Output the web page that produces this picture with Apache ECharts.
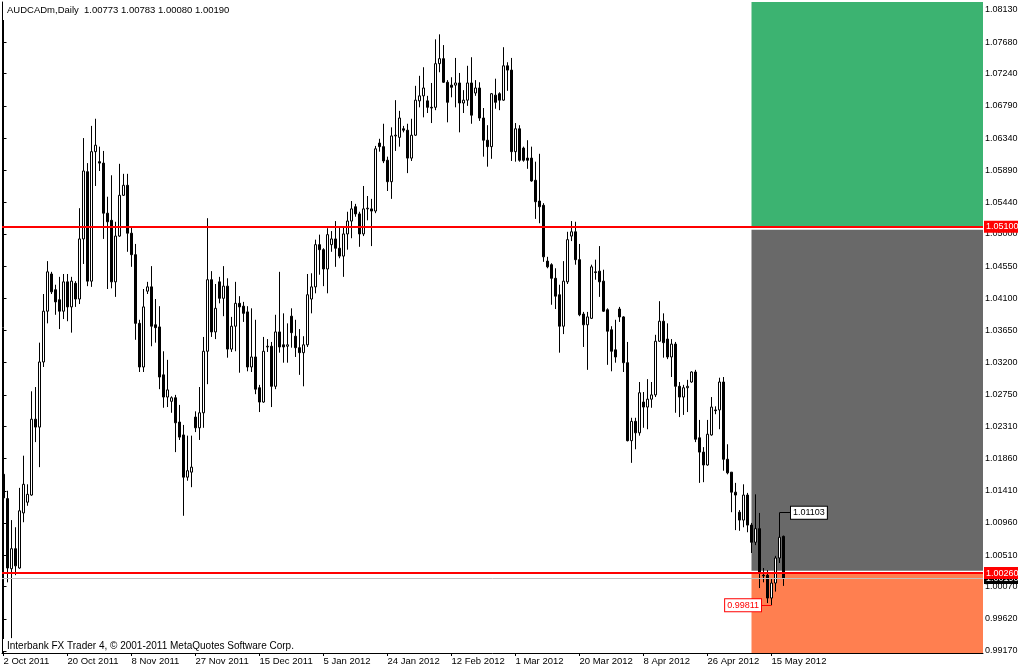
<!DOCTYPE html>
<html><head><meta charset="utf-8">
<script src="https://cdn.jsdelivr.net/npm/echarts@6/dist/echarts.min.js"></script>
<style>html,body{margin:0;padding:0;background:#fff}#c{width:1018px;height:670px}</style>
</head><body><div id="c"></div><script>
// ---- data ----
const opens = [1.0164,1.0130,1.0032,1.0060,1.0033,1.0110,1.0125,1.0135,1.0241,1.0230,1.0321,1.0392,1.0444,1.0422,1.0408,1.0392,1.0433,1.0398,1.0431,1.0409,
1.0493,1.0587,1.0434,1.0615,1.0601,1.0599,1.0529,1.0519,1.0433,1.0497,1.0554,1.0568,1.0501,1.0471,1.0375,1.0314,1.0420,1.0426,1.0373,1.0370,
1.0303,1.0272,1.0266,1.0271,1.0237,1.0219,1.0160,1.0167,1.0244,1.0229,1.0250,1.0336,1.0436,1.0363,1.0433,1.0410,1.0427,1.0339,1.0371,1.0403,
1.0399,1.0391,1.0314,1.0328,1.0285,1.0265,1.0342,1.0343,1.0287,1.0363,1.0345,1.0343,1.0385,1.0357,1.0341,1.0334,1.0345,1.0409,1.0426,1.0485,
1.0478,1.0451,1.0485,1.0493,1.0480,1.0469,1.0500,1.0518,1.0538,1.0528,1.0500,1.0535,1.0535,1.0532,1.0627,1.0622,1.0603,1.0573,1.0637,1.0635,
1.0647,1.0645,1.0606,1.0638,1.0686,1.0693,1.0686,1.0677,1.0677,1.0738,1.0745,1.0712,1.0708,1.0708,1.0711,1.0683,1.0687,1.0711,1.0697,1.0704,
1.0662,1.0631,1.0622,1.0694,1.0696,1.0687,1.0735,1.0729,1.0615,1.0647,1.0620,1.0606,1.0606,1.0575,1.0546,1.0540,1.0462,1.0457,1.0438,1.0415,
1.0371,1.0433,1.0497,1.0503,1.0464,1.0388,1.0373,1.0382,1.0447,1.0448,1.0434,1.0394,1.0366,1.0338,1.0395,1.0384,1.0320,1.0211,1.0238,1.0222,
1.0265,1.0258,1.0269,1.0275,1.0350,1.0378,1.0353,1.0328,1.0346,1.0287,1.0272,1.0285,1.0293,1.0307,1.0215,1.0195,1.0177,1.0219,1.0254,1.0254,
1.0293,1.0185,1.0167,1.0139,1.0111,1.0100,1.0135,1.0093,1.0069,1.0088,1.0023,1.0023,0.9991,1.0012,1.0047,1.00773];
const highs = [1.0170,1.0141,1.0100,1.0090,1.0145,1.0190,1.0150,1.0280,1.0286,1.0348,1.0416,1.0462,1.0447,1.0429,1.0440,1.0444,1.0444,1.0440,1.0434,1.0536,
1.0634,1.0599,1.0651,1.0661,1.0622,1.0616,1.0552,1.0582,1.0517,1.0598,1.0584,1.0584,1.0510,1.0486,1.0380,1.0423,1.0433,1.0455,1.0409,1.0399,
1.0336,1.0324,1.0273,1.0275,1.0261,1.0233,1.0218,1.0218,1.0252,1.0286,1.0356,1.0522,1.0448,1.0430,1.0440,1.0455,1.0438,1.0384,1.0433,1.0413,
1.0405,1.0399,1.0396,1.0380,1.0289,1.0356,1.0353,1.0349,1.0387,1.0447,1.0389,1.0375,1.0396,1.0380,1.0367,1.0357,1.0444,1.0445,1.0492,1.0499,
1.0480,1.0508,1.0504,1.0518,1.0510,1.0510,1.0531,1.0546,1.0542,1.0531,1.0567,1.0553,1.0549,1.0623,1.0633,1.0654,1.0608,1.0649,1.0687,1.0672,
1.0651,1.0654,1.0661,1.0707,1.0721,1.0733,1.0693,1.0711,1.0772,1.0779,1.0764,1.0715,1.0719,1.0746,1.0725,1.0701,1.0735,1.0747,1.0715,1.0712,
1.0676,1.0652,1.0697,1.0717,1.0698,1.0761,1.0740,1.0746,1.0655,1.0652,1.0622,1.0631,1.0622,1.0601,1.0612,1.0543,1.0468,1.0459,1.0452,1.0429,
1.0462,1.0503,1.0518,1.0517,1.0486,1.0391,1.0391,1.0457,1.0464,1.0483,1.0450,1.0396,1.0371,1.0380,1.0398,1.0385,1.0349,1.0243,1.0243,1.0293,
1.0279,1.0297,1.0293,1.0359,1.0406,1.0389,1.0375,1.0353,1.0349,1.0293,1.0289,1.0296,1.0308,1.0310,1.0240,1.0202,1.0240,1.0272,1.0259,1.0299,
1.0300,1.0206,1.0167,1.0152,1.0114,1.0150,1.0138,1.0096,1.0136,1.0110,1.0033,1.0030,1.0019,1.0050,1.01103,1.00783];
const lows = [1.0127,1.0013,0.9935,1.0023,1.0032,1.0097,1.0120,1.0134,1.0209,1.0174,1.0314,1.0375,1.0416,1.0387,1.0367,1.0381,1.0378,1.0362,1.0398,1.0402,
1.0458,1.0427,1.0426,1.0567,1.0588,1.0493,1.0423,1.0424,1.0412,1.0496,1.0553,1.0475,1.0454,1.0352,1.0307,1.0307,1.0416,1.0343,1.0348,1.0283,
1.0257,1.0258,1.0250,1.0195,1.0212,1.0106,1.0155,1.0146,1.0223,1.0212,1.0229,1.0290,1.0356,1.0353,1.0403,1.0385,1.0327,1.0335,1.0336,1.0306,
1.0377,1.0308,1.0307,1.0276,1.0251,1.0264,1.0335,1.0258,1.0283,1.0334,1.0320,1.0320,1.0341,1.0328,1.0303,1.0287,1.0342,1.0389,1.0417,1.0443,
1.0427,1.0417,1.0475,1.0454,1.0466,1.0440,1.0478,1.0494,1.0524,1.0482,1.0497,1.0519,1.0483,1.0529,1.0615,1.0599,1.0560,1.0549,1.0616,1.0622,
1.0642,1.0585,1.0602,1.0637,1.0677,1.0663,1.0669,1.0655,1.0673,1.0726,1.0711,1.0656,1.0691,1.0677,1.0642,1.0669,1.0679,1.0654,1.0693,1.0658,
1.0608,1.0594,1.0605,1.0675,1.0673,1.0686,1.0700,1.0602,1.0601,1.0601,1.0601,1.0591,1.0573,1.0521,1.0515,1.0461,1.0452,1.0401,1.0395,1.0334,
1.0360,1.0430,1.0490,1.0457,1.0385,1.0342,1.0310,1.0381,1.0436,1.0412,1.0391,1.0317,1.0308,1.0320,1.0377,1.0307,1.0210,1.0180,1.0199,1.0218,
1.0229,1.0227,1.0257,1.0272,1.0349,1.0327,1.0325,1.0300,1.0250,1.0244,1.0247,1.0251,1.0292,1.0209,1.0152,1.0153,1.0176,1.0218,1.0248,1.0227,
1.0169,1.0164,1.0111,1.0086,1.0085,1.0090,1.0083,1.0054,1.0065,1.0005,1.0013,0.9984,0.99811,1.0000,1.0040,1.00080];
const closes = [1.0131,1.0033,1.0060,1.0036,1.0113,1.0150,1.0136,1.0241,1.0230,1.0321,1.0392,1.0447,1.0419,1.0405,1.0392,1.0433,1.0398,1.0434,1.0409,1.0493,
1.0588,1.0434,1.0615,1.0624,1.0599,1.0529,1.0517,1.0433,1.0497,1.0554,1.0568,1.0501,1.0471,1.0375,1.0314,1.0398,1.0426,1.0371,1.0369,1.0300,
1.0272,1.0282,1.0271,1.0236,1.0216,1.0160,1.0169,1.0174,1.0229,1.0250,1.0336,1.0436,1.0363,1.0396,1.0410,1.0427,1.0339,1.0371,1.0403,1.0398,
1.0389,1.0314,1.0328,1.0283,1.0265,1.0336,1.0343,1.0287,1.0363,1.0342,1.0342,1.0345,1.0362,1.0341,1.0334,1.0345,1.0415,1.0426,1.0485,1.0478,
1.0451,1.0499,1.0493,1.0480,1.0469,1.0500,1.0518,1.0535,1.0528,1.0500,1.0535,1.0536,1.0532,1.0619,1.0622,1.0602,1.0573,1.0637,1.0638,1.0662,
1.0645,1.0606,1.0638,1.0687,1.0693,1.0704,1.0677,1.0676,1.0738,1.0745,1.0712,1.0684,1.0705,1.0711,1.0683,1.0687,1.0711,1.0666,1.0704,1.0662,
1.0631,1.0622,1.0696,1.0684,1.0687,1.0735,1.0729,1.0615,1.0647,1.0603,1.0603,1.0603,1.0574,1.0545,1.0538,1.0468,1.0454,1.0438,1.0413,1.0371,
1.0434,1.0492,1.0503,1.0464,1.0387,1.0373,1.0384,1.0454,1.0446,1.0433,1.0392,1.0364,1.0336,1.0328,1.0384,1.0320,1.0211,1.0238,1.0222,1.0278,
1.0258,1.0269,1.0275,1.0350,1.0378,1.0348,1.0328,1.0346,1.0287,1.0272,1.0285,1.0287,1.0307,1.0213,1.0195,1.0177,1.0220,1.0258,1.0253,1.0293,
1.0185,1.0166,1.0139,1.0135,1.0100,1.0135,1.0093,1.0069,1.0088,1.0026,1.0022,0.9991,1.0012,1.0047,1.0076,1.00190];

const dateLabels = ['2 Oct 2011','20 Oct 2011','8 Nov 2011','27 Nov 2011','15 Dec 2011','5 Jan 2012','24 Jan 2012','12 Feb 2012','1 Mar 2012','20 Mar 2012','8 Apr 2012','26 Apr 2012','15 May 2012'];
const dateTickBars = [0,16,32,48,64,80,96,112,128,144,160,176,192];
const priceTicks = [1.08130,1.07680,1.07240,1.06790,1.06340,1.05890,1.05440,1.05000,1.04550,1.04100,1.03650,1.03200,1.02750,1.02310,1.01860,1.01410,1.00960,1.00510,1.00070,0.99620,0.99170];

const upperLevel = 1.05100;
const lowerLevel = 1.00260;
const bidPrice = 1.00190;
const zoneStartBar = 187;
const grayZone = [1.00290, 1.05060];
const hiMark = {bar: 194, price: 1.01103};
const loMark = {bar: 192, price: 0.99811};

const titleText = 'AUDCADm,Daily  1.00773 1.00783 1.00080 1.00190';
const footerText = 'Interbank FX Trader 4, \u00a9 2001-2011 MetaQuotes Software Corp.';

// ---- view extents ----
const xMin = -0.375, xMax = 244.875;
const yMin = 0.99142, yMax = 1.08242;
const FONT = 'Liberation Sans';

const rows = opens.map((o, i) => [i, o, closes[i], lows[i], highs[i]]);

const chart = echarts.init(document.getElementById('c'));
const txt = (fs) => ({fontFamily: FONT, fontSize: fs, fontWeight: 'normal', color: '#000'});
const boxLabel = (val, bg) => ({show: true, position: 'end', distance: 1, formatter: val.toFixed(5),
  backgroundColor: bg, color: '#fff', padding: [2, 4, 1, 2], fontFamily: FONT, fontSize: 9});

chart.setOption({
  animation: false,
  backgroundColor: '#fff',
  title: [
    {text: titleText, left: 3, top: 0, padding: [5, 3, 5, 4], backgroundColor: '#fff', textStyle: txt(9.5)},
    {text: footerText, left: 3, top: 639, padding: [2, 3, 0, 4], backgroundColor: '#fff', textStyle: txt(10)}
  ],
  grid: {left: 2, right: 35, top: 2, bottom: 17, containLabel: false, outerBoundsMode: 'none'},
  xAxis: {
    type: 'value', min: xMin, max: xMax,
    axisLine: {show: true, onZero: false, lineStyle: {color: '#000', width: 1}},
    axisTick: {show: true, customValues: dateTickBars, length: 3, lineStyle: {color: '#000'}},
    axisLabel: {customValues: dateTickBars, formatter: v => dateLabels[dateTickBars.indexOf(Math.round(v))] || '',
      align: 'left', margin: 3, ...txt(9.5)},
    splitLine: {show: false}
  },
  yAxis: [
    {type: 'value', position: 'right', min: yMin, max: yMax,
      axisLine: {show: true, lineStyle: {color: '#000', width: 1}},
      axisTick: {show: true, customValues: priceTicks, length: 3, lineStyle: {color: '#000'}},
      axisLabel: {customValues: priceTicks, formatter: v => v.toFixed(5), margin: 2, ...txt(9)},
      splitLine: {show: false}},
    {type: 'value', position: 'left', min: yMin, max: yMax,
      axisLine: {show: true, lineStyle: {color: '#000', width: 1}},
      axisTick: {show: false}, axisLabel: {show: false}, splitLine: {show: false}}
  ],
  series: [{
    type: 'candlestick',
    data: rows,
    encode: {x: 0, y: [1, 2, 3, 4]},
    barWidth: 3,
    itemStyle: {color: '#ffffff', color0: '#000000', borderColor: '#000000', borderColor0: '#000000', borderWidth: 1},
    markArea: {
      silent: true,
      data: [
        [{xAxis: zoneStartBar, yAxis: upperLevel, itemStyle: {color: '#3CB371', opacity: 1}}, {xAxis: xMax, yAxis: yMax}],
        [{xAxis: zoneStartBar, yAxis: grayZone[0], itemStyle: {color: '#696969', opacity: 1}}, {xAxis: xMax, yAxis: grayZone[1]}],
        [{xAxis: zoneStartBar, yAxis: yMin, itemStyle: {color: '#FF7F50', opacity: 1}}, {xAxis: xMax, yAxis: lowerLevel}]
      ]
    },
    markLine: {
      silent: true,
      precision: 5,
      symbol: ['none', 'none'],
      animation: false,
      data: [
        {yAxis: bidPrice, lineStyle: {color: '#C0C0C0', width: 1, type: 'solid'}, label: boxLabel(bidPrice, '#000')},
        {yAxis: upperLevel, lineStyle: {color: '#FF0000', width: 2, type: 'solid'}, label: boxLabel(upperLevel, '#FF0000')},
        {yAxis: lowerLevel, lineStyle: {color: '#FF0000', width: 2, type: 'solid'}, label: boxLabel(lowerLevel, '#FF0000')},
        [{coord: [hiMark.bar, hiMark.price], lineStyle: {color: '#000', width: 1, type: 'solid'}, label: {show: false}}, {coord: [hiMark.bar + 2.8, hiMark.price]}],
        [{coord: [loMark.bar, loMark.price], lineStyle: {color: '#FF0000', width: 1, type: 'solid'}, label: {show: false}}, {coord: [loMark.bar - 2.5, loMark.price]}]
      ]
    },
    markPoint: {
      silent: true,
      symbol: 'rect', symbolSize: 1,
      itemStyle: {color: 'rgba(0,0,0,0)'},
      data: [
        {coord: [hiMark.bar, hiMark.price], label: {show: true, position: 'right', distance: 11, formatter: hiMark.price.toFixed(5),
          color: '#000', backgroundColor: '#fff', borderColor: '#000', borderWidth: 1, padding: [2, 2, 1, 2], fontFamily: FONT, fontSize: 9}},
        {coord: [loMark.bar, loMark.price], label: {show: true, position: 'left', distance: 10, formatter: loMark.price.toFixed(5),
          color: '#FF0000', backgroundColor: '#fff', borderColor: '#FF0000', borderWidth: 1, padding: [2, 2, 1, 2], fontFamily: FONT, fontSize: 9}}
      ]
    }
  }]
});
</script></body></html>
